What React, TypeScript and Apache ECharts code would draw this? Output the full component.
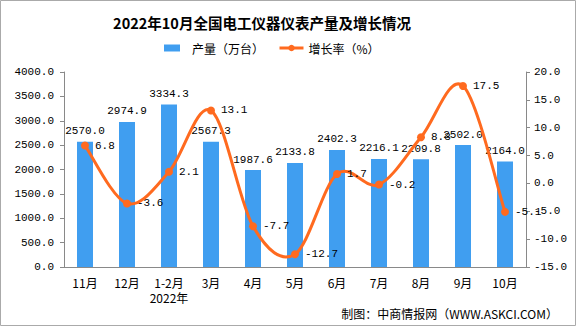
import React, { useEffect, useRef } from "react";
import * as echarts from "echarts";

const categories = ["11月", "12月", "1-2月\n2022年", "3月", "4月", "5月", "6月", "7月", "8月", "9月", "10月"];
const production = [2570.0, 2974.9, 3334.3, 2567.3, 1987.6, 2133.8, 2402.3, 2216.1, 2209.8, 2502.0, 2164.0];
const growth = [6.8, -3.6, 2.1, 13.1, -7.7, -12.7, 1.7, -0.2, 8.3, 17.5, -5.1];
const titleText = "2022年10月全国电工仪器仪表产量及增长情况";
const sourceText = "制图：中商情报网（WWW.ASKCI.COM）";

const MONO = "'Liberation Mono', 'Noto Sans CJK SC', monospace";
const CJK = "'Noto Sans CJK SC', sans-serif";
const BLUE = "#409EF0";
const ORANGE = "#FF6A1F";

export default function App() {
  const ref = useRef<HTMLDivElement>(null);
  useEffect(() => {
    document.body.style.margin = "0";
    const chart = echarts.init(ref.current!, null, { renderer: "svg" });

    const renderCurve = (params: any, api: any) => {
      if (params.dataIndex !== 0) return null;
      const pts = growth.map((v, i) => api.coord([i, v]));
      const n = pts.length;
      const k = 1 / 6;
      let d = `M${pts[0][0]},${pts[0][1]}`;
      for (let i = 0; i < n - 1; i++) {
        const p0 = pts[Math.max(0, i - 1)];
        const p1 = pts[i];
        const p2 = pts[i + 1];
        const p3 = pts[Math.min(n - 1, i + 2)];
        const c1x = p1[0] + (p2[0] - p0[0]) * k;
        const c1y = p1[1] + (p2[1] - p0[1]) * k;
        const c2x = p2[0] - (p3[0] - p1[0]) * k;
        const c2y = p2[1] - (p3[1] - p1[1]) * k;
        d += ` C${c1x},${c1y} ${c2x},${c2y} ${p2[0]},${p2[1]}`;
      }
      return {
        type: "path",
        shape: { pathData: d },
        style: { fill: "none", stroke: ORANGE, lineWidth: 3, lineJoin: "round", lineCap: "round" },
      };
    };

    chart.setOption({
      animation: false,
      backgroundColor: "#fff",
      graphic: [
        {
          type: "rect",
          shape: { x: 0.5, y: 0.5, width: 575, height: 325 },
          style: { fill: "none", stroke: "#aaa", lineWidth: 1 },
          silent: true,
        },
        {
          type: "text",
          x: 262,
          y: 22,
          style: {
            text: titleText,
            font: "bold 14.5px 'Noto Sans CJK SC', sans-serif",
            fill: "#000",
            textAlign: "center",
            textVerticalAlign: "middle",
          },
        },
        {
          type: "text",
          x: 558,
          y: 313,
          style: {
            text: sourceText,
            font: "12px 'Noto Sans CJK SC', sans-serif",
            fill: "#000",
            textAlign: "right",
            textVerticalAlign: "middle",
          },
        },
      ],
      legend: [
        {
          data: [{ name: "产量（万台）", icon: "rect" }],
          left: 159,
          top: 37,
          itemWidth: 16,
          itemHeight: 7,
          textStyle: { fontFamily: CJK, fontSize: 12, color: "#000", padding: [0, 0, 0, 7] },
        },
        {
          data: ["增长率（%）"],
          left: 273,
          top: 37,
          itemWidth: 24,
          itemHeight: 8,
          lineStyle: { color: ORANGE, width: 3, opacity: 1 },
          textStyle: { fontFamily: CJK, fontSize: 12, color: "#000" },
        },
      ],
      grid: { left: 64, right: 50, top: 72, bottom: 59, containLabel: false },
      xAxis: {
        type: "category",
        data: categories,
        axisLine: { lineStyle: { color: "#898989" } },
        axisTick: { alignWithLabel: false, length: 4, lineStyle: { color: "#898989" } },
        axisLabel: { color: "#000", fontFamily: CJK, fontSize: 12, margin: 8, lineHeight: 15, interval: 0 },
      },
      yAxis: [
        {
          type: "value",
          min: 0,
          max: 4000,
          interval: 500,
          axisLine: { show: true, lineStyle: { color: "#898989" } },
          axisTick: { show: true, length: 4, lineStyle: { color: "#898989" } },
          splitLine: { show: false },
          axisLabel: {
            color: "#000",
            fontFamily: MONO,
            fontSize: 11,
            margin: 10,
            formatter: (v: number) => v.toFixed(1),
          },
        },
        {
          type: "value",
          min: -15,
          max: 20,
          interval: 5,
          axisLine: { show: true, lineStyle: { color: "#898989" } },
          axisTick: { show: true, length: 4, lineStyle: { color: "#898989" } },
          splitLine: { show: false },
          axisLabel: {
            color: "#000",
            fontFamily: MONO,
            fontSize: 11,
            margin: 8,
            formatter: (v: number) => v.toFixed(1),
          },
        },
      ],
      series: [
        {
          name: "产量（万台）",
          type: "bar",
          data: production,
          barWidth: 16,
          itemStyle: { color: BLUE },
          label: {
            show: true,
            position: "top",
            distance: 5,
            color: "#000",
            fontFamily: MONO,
            fontSize: 11,
            formatter: (p: any) => Number(p.value).toFixed(1),
          },
          z: 2,
        },
        {
          name: "增长率曲线",
          type: "custom",
          yAxisIndex: 1,
          data: growth,
          renderItem: renderCurve,
          clip: false,
          silent: true,
          z: 3,
        },
        {
          name: "增长率（%）",
          type: "line",
          yAxisIndex: 1,
          data: growth,
          symbol: "circle",
          symbolSize: 8,
          lineStyle: { color: ORANGE, width: 3, opacity: 0 },
          itemStyle: { color: ORANGE },
          label: {
            show: true,
            position: "right",
            distance: 6,
            color: "#000",
            fontFamily: MONO,
            fontSize: 11,
            formatter: (p: any) => Number(p.value).toFixed(1),
          },
          z: 4,
        },
      ],
    });
    return () => chart.dispose();
  }, []);
  return <div ref={ref} style={{ width: 576, height: 326 }} />;
}
